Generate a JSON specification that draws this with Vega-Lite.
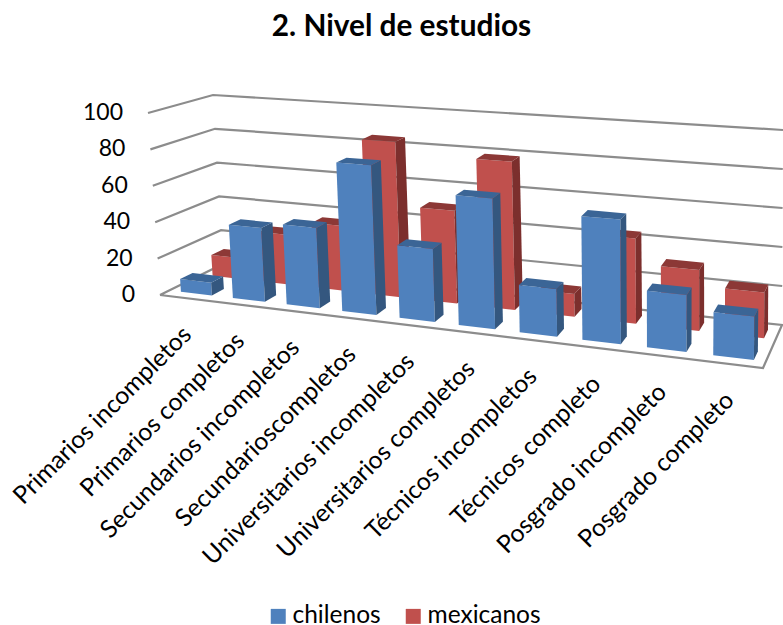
{
  "$schema": "https://vega.github.io/schema/vega-lite/v6.json",
  "width": 783,
  "height": 625,
  "padding": 0,
  "autosize": "none",
  "background": "white",
  "title": {"text": "2. Nivel de estudios", "font": "Lato", "fontSize": 29.8, "fontWeight": "bold", "color": "#000000", "anchor": "middle", "frame": "group", "offset": -72, "baseline": "bottom", "dx": 10},
  "config": {"view": {"stroke": null}},
  "datasets": {
    "encuesta": [
      {"categoria": "Primarios incompletos", "orden": 1, "serie": "mexicanos", "valor": 12},
      {"categoria": "Primarios completos", "orden": 2, "serie": "mexicanos", "valor": 28},
      {"categoria": "Secundarios incompletos", "orden": 3, "serie": "mexicanos", "valor": 36},
      {"categoria": "Secundarioscompletos", "orden": 4, "serie": "mexicanos", "valor": 85},
      {"categoria": "Universitarios incompletos", "orden": 5, "serie": "mexicanos", "valor": 50},
      {"categoria": "Universitarios completos", "orden": 6, "serie": "mexicanos", "valor": 79},
      {"categoria": "Técnicos incompletos", "orden": 7, "serie": "mexicanos", "valor": 12},
      {"categoria": "Técnicos completo", "orden": 8, "serie": "mexicanos", "valor": 44},
      {"categoria": "Posgrado incompleto", "orden": 9, "serie": "mexicanos", "valor": 31},
      {"categoria": "Posgrado completo", "orden": 10, "serie": "mexicanos", "valor": 23},
      {"categoria": "Primarios incompletos", "orden": 1, "serie": "chilenos", "valor": 7},
      {"categoria": "Primarios completos", "orden": 2, "serie": "chilenos", "valor": 40},
      {"categoria": "Secundarios incompletos", "orden": 3, "serie": "chilenos", "valor": 43},
      {"categoria": "Secundarioscompletos", "orden": 4, "serie": "chilenos", "valor": 79},
      {"categoria": "Universitarios incompletos", "orden": 5, "serie": "chilenos", "valor": 38},
      {"categoria": "Universitarios completos", "orden": 6, "serie": "chilenos", "valor": 67},
      {"categoria": "Técnicos incompletos", "orden": 7, "serie": "chilenos", "valor": 24},
      {"categoria": "Técnicos completo", "orden": 8, "serie": "chilenos", "valor": 62},
      {"categoria": "Posgrado incompleto", "orden": 9, "serie": "chilenos", "valor": 28},
      {"categoria": "Posgrado completo", "orden": 10, "serie": "chilenos", "valor": 21}
    ],
    "rejilla": [
      {"valor": 0}, {"valor": 20}, {"valor": 40}, {"valor": 60}, {"valor": 80}, {"valor": 100}
    ]
  },
  "layer": [
    {
      "description": "Walls and floor: each grid level runs along the side wall, then the back wall",
      "data": {"name": "rejilla"},
      "transform": [
        {"calculate": "datum.valor === 0 ? [{o:0,s:0,v:0},{o:1,s:0,v:1},{o:2,s:1,v:1},{o:3,s:1,v:0},{o:4,s:0,v:0}] : [{o:0,s:0,v:0},{o:1,s:0,v:1},{o:2,s:1,v:1}]", "as": "p"},
        {"flatten": ["p"]},
        {"calculate": "datum.p.s * (0.85 + 0.15 * datum.p.s)", "as": "t"},
        {"calculate": "(1 - datum.p.v) * (160 + 603 * datum.t + (-12 + 15 * datum.t) * datum.valor / 100) + datum.p.v * (223 + 559 * datum.t + (-10 + 11 * datum.t) * datum.valor / 100)", "as": "px"},
        {"calculate": "(1 - datum.p.v) * (295 + 73 * datum.t + (-182 - 28 * datum.t) * datum.valor / 100) + datum.p.v * (264 + 61 * datum.t + (-169 - 26 * datum.t) * datum.valor / 100)", "as": "py"},
        {"calculate": "datum.p.o", "as": "paso"}
      ],
      "mark": {"type": "line", "stroke": "#8C8C8C", "strokeWidth": 2.2, "interpolate": "linear", "strokeJoin": "miter"},
      "encoding": {
        "x": {"field": "px", "type": "quantitative", "scale": {"domain": [0, 783], "range": [0, 783]}, "axis": null},
        "y": {"field": "py", "type": "quantitative", "scale": {"domain": [0, 625], "range": [0, 625]}, "axis": null},
        "detail": {"field": "valor"},
        "order": {"field": "paso", "type": "quantitative"}
      }
    },
    {
      "description": "Value labels at the front edge of the side wall",
      "data": {"name": "rejilla"},
      "transform": [
        {"calculate": "160 + (-12) * datum.valor / 100", "as": "px"},
        {"calculate": "295 + (-182) * datum.valor / 100", "as": "py"}
      ],
      "mark": {"type": "text", "font": "Lato", "fontSize": 23, "align": "right", "baseline": "middle", "dx": -25, "color": "#000000"},
      "encoding": {
        "x": {"field": "px", "type": "quantitative", "scale": {"domain": [0, 783], "range": [0, 783]}, "axis": null},
        "y": {"field": "py", "type": "quantitative", "scale": {"domain": [0, 625], "range": [0, 625]}, "axis": null},
        "text": {"field": "valor", "type": "quantitative"}
      }
    },
    {
      "description": "Three visible faces of every bar, projected from category, series and value",
      "data": {"name": "encuesta"},
      "transform": [
        {"calculate": "(datum.orden - 1 + 0.225) / 10", "as": "s0"},
        {"calculate": "datum.s0 + 0.06", "as": "s1"},
        {"calculate": "datum.serie === 'chilenos' ? 0.15 : 0.66", "as": "v0"},
        {"calculate": "datum.v0 + 0.2", "as": "v1"},
        {"calculate": "[{c:'',o:0,s:datum.s0,v:datum.v0,h:0},{c:'',o:1,s:datum.s1,v:datum.v0,h:0},{c:'',o:2,s:datum.s1,v:datum.v0,h:datum.valor},{c:'',o:3,s:datum.s0,v:datum.v0,h:datum.valor},{c:' lado',o:0,s:datum.s1,v:datum.v0,h:0},{c:' lado',o:1,s:datum.s1,v:datum.v1,h:0},{c:' lado',o:2,s:datum.s1,v:datum.v1,h:datum.valor},{c:' lado',o:3,s:datum.s1,v:datum.v0,h:datum.valor},{c:' tapa',o:0,s:datum.s0,v:datum.v0,h:datum.valor},{c:' tapa',o:1,s:datum.s1,v:datum.v0,h:datum.valor},{c:' tapa',o:2,s:datum.s1,v:datum.v1,h:datum.valor},{c:' tapa',o:3,s:datum.s0,v:datum.v1,h:datum.valor}]", "as": "p"},
        {"flatten": ["p"]},
        {"calculate": "datum.p.s * (0.85 + 0.15 * datum.p.s)", "as": "t"},
        {"calculate": "(1 - datum.p.v) * (160 + 603 * datum.t + (-12 + 15 * datum.t) * datum.p.h / 100) + datum.p.v * (223 + 559 * datum.t + (-10 + 11 * datum.t) * datum.p.h / 100)", "as": "px"},
        {"calculate": "(1 - datum.p.v) * (295 + 73 * datum.t + (-182 - 28 * datum.t) * datum.p.h / 100) + datum.p.v * (264 + 61 * datum.t + (-169 - 26 * datum.t) * datum.p.h / 100)", "as": "py"},
        {"calculate": "datum.serie + datum.p.c", "as": "cara"},
        {"calculate": "datum.p.o", "as": "paso"}
      ],
      "mark": {"type": "line", "filled": true, "strokeWidth": 0, "interpolate": "linear-closed"},
      "encoding": {
        "x": {"field": "px", "type": "quantitative", "scale": {"domain": [0, 783], "range": [0, 783]}, "axis": null},
        "y": {"field": "py", "type": "quantitative", "scale": {"domain": [0, 625], "range": [0, 625]}, "axis": null},
        "detail": {"field": "categoria"},
        "order": {"field": "paso", "type": "quantitative"},
        "fill": {
          "field": "cara",
          "type": "nominal",
          "scale": {
            "domain": ["chilenos", "mexicanos", "chilenos lado", "chilenos tapa", "mexicanos lado", "mexicanos tapa"],
            "range": ["#4F81BD", "#C0504D", "#34577F", "#3B6596", "#7C2F2D", "#8C3836"]
          },
          "legend": {
            "values": ["chilenos", "mexicanos"],
            "title": null,
            "orient": "none",
            "legendX": 266,
            "legendY": 604,
            "direction": "horizontal",
            "columns": 2,
            "columnPadding": 20,
            "symbolType": "square",
            "symbolSize": 225,
            "symbolStrokeWidth": 0,
            "labelFont": "Lato",
            "labelFontSize": 24.5,
            "labelColor": "#000000",
            "labelOffset": 2
          }
        }
      }
    },
    {
      "description": "Category names below the front edge of the floor",
      "data": {"name": "encuesta"},
      "transform": [
        {"filter": "datum.serie === 'chilenos'"},
        {"calculate": "(datum.orden - 0.5) / 10", "as": "s"},
        {"calculate": "datum.s * (0.85 + 0.15 * datum.s)", "as": "t"},
        {"calculate": "160 + 603 * datum.t + 2", "as": "px"},
        {"calculate": "295 + 73 * datum.t + 33", "as": "py"}
      ],
      "mark": {"type": "text", "font": "Lato", "fontSize": 24.7, "angle": 315, "align": "right", "baseline": "middle", "color": "#000000"},
      "encoding": {
        "x": {"field": "px", "type": "quantitative", "scale": {"domain": [0, 783], "range": [0, 783]}, "axis": null},
        "y": {"field": "py", "type": "quantitative", "scale": {"domain": [0, 625], "range": [0, 625]}, "axis": null},
        "text": {"field": "categoria", "type": "nominal"}
      }
    }
  ]
}
